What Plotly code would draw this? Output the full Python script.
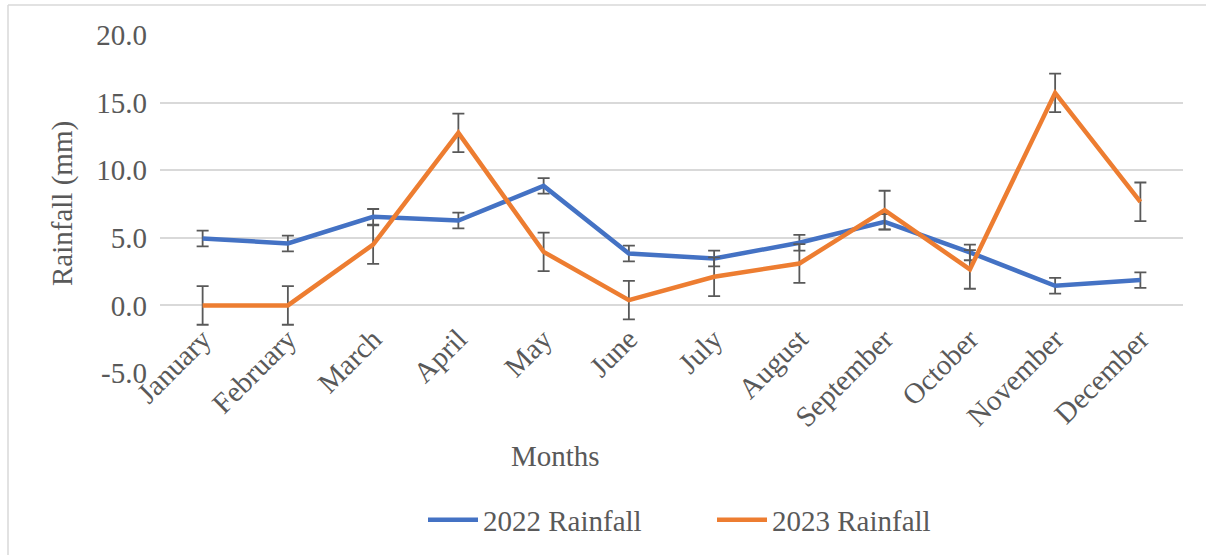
import plotly.graph_objects as go

months = ["January", "February", "March", "April", "May", "June", "July",
          "August", "September", "October", "November", "December"]
rain_2022 = [4.95, 4.58, 6.55, 6.28, 8.84, 3.84, 3.47, 4.63, 6.18, 3.92, 1.45, 1.87]
rain_2023 = [0.0, 0.0, 4.5, 12.76, 3.96, 0.39, 2.12, 3.10, 7.05, 2.66, 15.72, 7.66]
err_2022 = [0.58] * 12
err_2023 = [1.43] * 12
y_ticks = [-5, 0, 5, 10, 15, 20]
y_tick_labels = ["-5.0", "0.0", "5.0", "10.0", "15.0", "20.0"]

FONT = "Liberation Serif"
GRAY = "#595959"
FS = 29

fig = go.Figure()
fig.add_trace(go.Scatter(
    x=months, y=rain_2022, mode="lines", name="2022 Rainfall",
    line=dict(color="#4472C4", width=4.5),
    error_y=dict(type="data", array=err_2022, color=GRAY, thickness=1.8, width=6),
))
fig.add_trace(go.Scatter(
    x=months, y=rain_2023, mode="lines", name="2023 Rainfall",
    line=dict(color="#ED7D31", width=4.5),
    error_y=dict(type="data", array=err_2023, color=GRAY, thickness=1.8, width=6),
))

L, R, T, B = 160, 23, 35, 182
W, H = 1206, 555
pw, ph = W - L - R, H - T - B

def px(x):
    return (x - L) / pw

def py(y):
    return (H - B - y) / ph

fig.update_layout(
    width=W, height=H,
    margin=dict(l=L, r=R, t=T, b=B, autoexpand=False),
    paper_bgcolor="white", plot_bgcolor="white",
    font=dict(family=FONT, size=FS, color=GRAY),
    showlegend=True,
    legend=dict(orientation="h", x=px(712), xanchor="center", y=py(520), yanchor="middle",
                font=dict(family=FONT, size=FS, color=GRAY), itemwidth=50,
                entrywidth=224, bgcolor="rgba(0,0,0,0)"),
    xaxis=dict(
        type="category", anchor="free", position=0.2,
        showgrid=False, showline=False, zeroline=False,
        tickangle=-45, ticks="", ticklabelstandoff=10,
        tickfont=dict(family=FONT, size=FS, color=GRAY),
        range=[-0.5, 11.5], automargin=False,
    ),
    yaxis=dict(
        range=[-5, 20], tickvals=y_ticks, ticktext=y_tick_labels,
        showgrid=True, gridcolor="#D9D9D9", gridwidth=1.6,
        zeroline=False, showline=False, ticks="", ticklabelstandoff=12,
        tickfont=dict(family=FONT, size=FS, color=GRAY), automargin=False,
    ),
    annotations=[
        dict(text="Rainfall (mm)", x=px(62), y=0.5, xref="paper", yref="paper",
             textangle=-90, showarrow=False, xanchor="center", yanchor="middle",
             font=dict(family=FONT, size=FS, color=GRAY)),
        dict(text="Months", x=px(555), y=py(456), xref="paper", yref="paper",
             showarrow=False, xanchor="center", yanchor="middle",
             font=dict(family=FONT, size=FS, color=GRAY)),
    ],
    shapes=[
        dict(type="line", xref="paper", yref="paper", x0=px(8), x1=px(1206), y0=py(5), y1=py(5),
             line=dict(color="#D9D9D9", width=1.5)),
        dict(type="line", xref="paper", yref="paper", x0=px(8), x1=px(8), y0=py(5), y1=py(556),
             line=dict(color="#D9D9D9", width=1.5)),
    ],
)

fig.write_html("out.html", config={"displayModeBar": False},
               post_script="document.body.style.margin='0';")
